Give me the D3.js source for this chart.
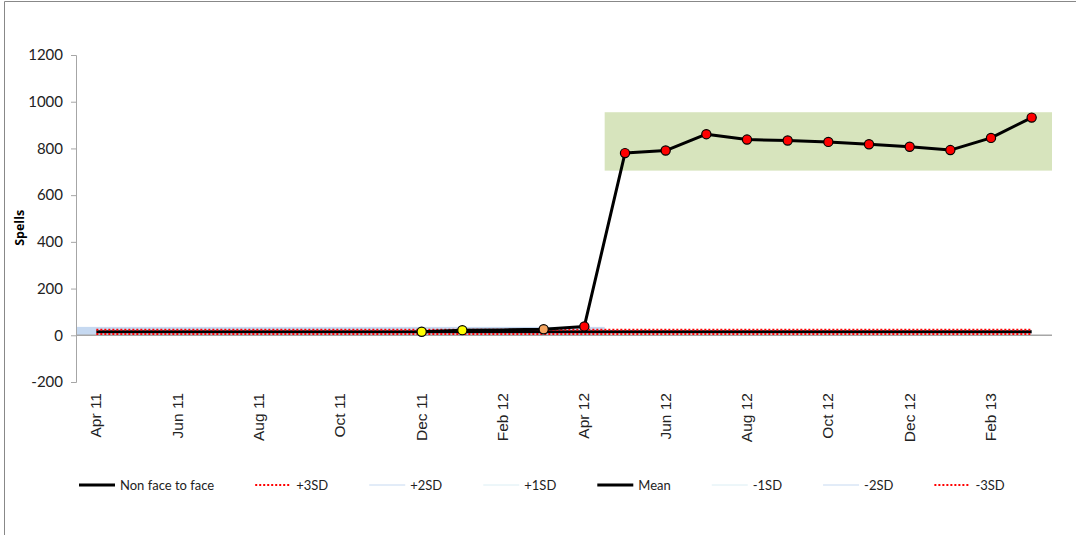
<!DOCTYPE html>
<html>
<head>
<meta charset="utf-8">
<script src="https://cdn.jsdelivr.net/npm/d3@7"></script>
<style>
  body { margin: 0; background: #fff; }
  svg { display: block; }
  .tick text { fill: #222; }
</style>
</head>
<body>
<div id="chart"></div>
<script>
// Meses (Apr 11 .. Mar 13)
const meses = ["Apr 11","May 11","Jun 11","Jul 11","Aug 11","Sep 11","Oct 11","Nov 11","Dec 11","Jan 12","Feb 12","Mar 12",
               "Apr 12","May 12","Jun 12","Jul 12","Aug 12","Sep 12","Oct 12","Nov 12","Dec 12","Jan 13","Feb 13","Mar 13"];
const rotulosX = ["Apr 11","Jun 11","Aug 11","Oct 11","Dec 11","Feb 12","Apr 12","Jun 12","Aug 12","Oct 12","Dec 12","Feb 13"];
const ticksY = [-200, 0, 200, 400, 600, 800, 1000, 1200];

// Série "Non face to face"
const valores = [null,null,null,null,null,null,null,null,15,22,23,26,
                 38,780,791,861,838,834,828,818,807,793,845,932];
const coresMarcador = [null,null,null,null,null,null,null,null,"#ffff00","#ffff00",null,"#f4a460",
                       "#ff0000","#ff0000","#ff0000","#ff0000","#ff0000","#ff0000","#ff0000","#ff0000","#ff0000","#ff0000","#ff0000","#ff0000"];

// Limites de controle
const limites = [
  { nome: "+3SD", valor: 24, cor: "#ff0000", tipo: "dot" },
  { nome: "+2SD", valor: 21, cor: "#c6d9f1", tipo: "thin" },
  { nome: "+1SD", valor: 18, cor: "#dbeef4", tipo: "thin" },
  { nome: "Mean", valor: 15, cor: "#000000", tipo: "solid" },
  { nome: "-1SD", valor: 12, cor: "#dbeef4", tipo: "thin" },
  { nome: "-2SD", valor: 9, cor: "#c6d9f1", tipo: "thin" },
  { nome: "-3SD", valor: 6, cor: "#ff0000", tipo: "dot" }
];
const ordemLegenda = ["Non face to face","+3SD","+2SD","+1SD","Mean","-1SD","-2SD","-3SD"];

// Faixas sombreadas
const faixaBase = { de: "Apr 11", ate: "Apr 12", min: 0, max: 36 };
const faixaNova = { de: "May 12", ate: "Mar 13", min: 705, max: 955 };

const W = 1076, H = 535;
const margin = { top: 55, right: 24, bottom: 153, left: 76 };
const width = W - margin.left - margin.right;
const height = H - margin.top - margin.bottom;

const svg = d3.select("#chart").append("svg")
  .attr("width", W).attr("height", H);

// moldura
svg.append("path")
  .attr("d", `M4.5,${H} V1.5 H${W}`)
  .attr("fill", "none").attr("stroke", "#888").attr("stroke-width", 1);

const g = svg.append("g").attr("transform", `translate(${margin.left},${margin.top})`);

const x = d3.scaleBand().domain(meses).range([0, width]);
const y = d3.scaleLinear().domain([-200, 1200]).range([height, 0]);
const cx = m => x(m) + x.bandwidth() / 2;

// faixas
g.append("rect")
  .attr("x", x(faixaBase.de))
  .attr("width", x(faixaBase.ate) + x.bandwidth() - x(faixaBase.de))
  .attr("y", y(faixaBase.max))
  .attr("height", y(faixaBase.min) - y(faixaBase.max))
  .attr("fill", "#c6d9f1");

g.append("rect")
  .attr("x", x(faixaNova.de))
  .attr("width", x(faixaNova.ate) + x.bandwidth() - x(faixaNova.de))
  .attr("y", y(faixaNova.max))
  .attr("height", y(faixaNova.min) - y(faixaNova.max))
  .attr("fill", "#d7e4bd");

// eixo Y
const eixoY = g.append("g")
  .call(d3.axisLeft(y).tickValues(ticksY).tickSize(5).tickPadding(8).tickFormat(d => String(d)));
eixoY.select(".domain").attr("stroke", "#a6a6a6");
eixoY.selectAll(".tick line").attr("stroke", "#a6a6a6");
eixoY.selectAll("text").style("font-family", "Lato, 'Open Sans', sans-serif").style("font-size", "15px");

// linha do zero
g.append("line")
  .attr("x1", 0).attr("x2", width)
  .attr("y1", y(0)).attr("y2", y(0))
  .attr("stroke", "#a6a6a6").attr("stroke-width", 1.5);

// rótulos X
g.selectAll(".rotuloX")
  .data(rotulosX)
  .join("text")
    .attr("class", "rotuloX")
    .attr("transform", d => `translate(${cx(d) + 5},${y(-200) + 11}) rotate(-90)`)
    .attr("text-anchor", "end")
    .style("font-family", "'Liberation Sans', Arial, sans-serif")
    .style("font-size", "15.5px")
    .attr("fill", "#222")
    .text(d => d);

// título Y
g.append("text")
  .attr("transform", `translate(${-52},${y(460)}) rotate(-90)`)
  .attr("text-anchor", "middle")
  .style("font-family", "'Open Sans', sans-serif")
  .style("font-size", "12.5px")
  .style("font-weight", "bold")
  .text("Spells");

// limites
function estilo(sel, l) {
  if (l.tipo === "dot") sel.attr("stroke", l.cor).attr("stroke-width", 2).attr("stroke-dasharray", "2,2");
  else if (l.tipo === "solid") sel.attr("stroke", l.cor).attr("stroke-width", 3);
  else sel.attr("stroke", l.cor).attr("stroke-width", 1);
}
const ordemDesenho = ["+2SD","+1SD","-1SD","-2SD","Mean","+3SD","-3SD"];
ordemDesenho.forEach(nome => {
  const l = limites.find(d => d.nome === nome);
  g.append("line")
    .attr("x1", cx(meses[0])).attr("x2", cx(meses[meses.length - 1]))
    .attr("y1", y(l.valor)).attr("y2", y(l.valor))
    .call(estilo, l);
});

// série
const pontos = meses.map((m, i) => ({ mes: m, valor: valores[i], cor: coresMarcador[i] }));
const linha = d3.line()
  .defined(d => d.valor !== null)
  .x(d => cx(d.mes))
  .y(d => y(d.valor));

g.append("path")
  .datum(pontos)
  .attr("fill", "none")
  .attr("stroke", "#000")
  .attr("stroke-width", 3)
  .attr("stroke-linejoin", "round")
  .attr("d", linha);

g.selectAll(".ponto")
  .data(pontos.filter(d => d.valor !== null && d.cor))
  .join("circle")
    .attr("class", "ponto")
    .attr("cx", d => cx(d.mes))
    .attr("cy", d => y(d.valor))
    .attr("r", 4.6)
    .attr("fill", d => d.cor)
    .attr("stroke", "#000")
    .attr("stroke-width", 1.2);

// legenda
const legenda = svg.append("g").attr("transform", "translate(79,485)");
let xl = 0;
ordemLegenda.forEach(nome => {
  const item = legenda.append("g").attr("transform", `translate(${xl},0)`);
  const amostra = item.append("line").attr("x1", 0).attr("x2", 36).attr("y1", 0).attr("y2", 0);
  if (nome === "Non face to face") amostra.attr("stroke", "#000").attr("stroke-width", 3);
  else estilo(amostra, limites.find(d => d.nome === nome));
  const t = item.append("text")
    .attr("x", 41).attr("y", 5)
    .style("font-family", "Lato, 'Open Sans', sans-serif")
    .style("font-size", "13px")
    .attr("fill", "#222")
    .text(nome);
  xl += 41 + t.node().getComputedTextLength() + 41;
});
</script>
</body>
</html>
